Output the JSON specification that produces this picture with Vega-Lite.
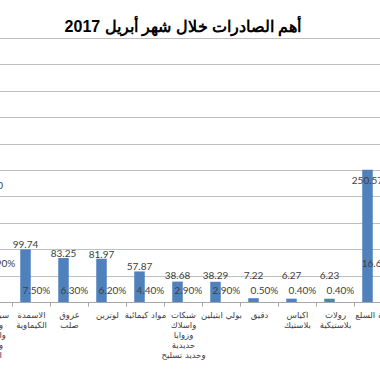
{
  "$schema": "https://vega.github.io/schema/vega-lite/v6.json",
  "width": 418,
  "height": 264,
  "autosize": {"type": "none"},
  "padding": {"left": -26, "top": 38, "right": -12, "bottom": 70},
  "background": "white",
  "title": {
    "text": "أهم الصادرات خلال شهر أبريل 2017",
    "fontSize": 16,
    "fontWeight": "bold",
    "font": "Liberation Sans",
    "color": "#000000",
    "anchor": "middle",
    "baseline": "alphabetic",
    "offset": -10
  },
  "data": {
    "values": [
      {"cat": "سيراميك\nوبلاط\nوادوات\nومواد\nالبناء", "value": 240, "pct": 0.159},
      {"cat": "الاسمدة\nالكيماوية", "value": 99.74, "pct": 0.075},
      {"cat": "عروق\nصلب", "value": 83.25, "pct": 0.063},
      {"cat": "لوترين", "value": 81.97, "pct": 0.062},
      {"cat": "مواد كيمائية", "value": 57.87, "pct": 0.044},
      {"cat": "شبكات\nواسلاك\nوزوايا\nحديدية\nوحديد تسليح", "value": 38.68, "pct": 0.029},
      {"cat": "بولي ايثيلين", "value": 38.29, "pct": 0.029},
      {"cat": "دقيق", "value": 7.22, "pct": 0.005},
      {"cat": "اكياس\nبلاستيك", "value": 6.27, "pct": 0.004},
      {"cat": "رولات\nبلاستيكية", "value": 6.23, "pct": 0.004},
      {"cat": "بقية السلع", "value": 250.57, "pct": 0.166}
    ]
  },
  "encoding": {
    "x": {
      "field": "cat",
      "type": "nominal",
      "sort": null,
      "scale": {"paddingInner": 0, "paddingOuter": 0},
      "axis": {
        "title": null,
        "labelAngle": 0,
        "labelExpr": "split(datum.value, '\\n')",
        "labelFont": "DejaVu Sans",
        "labelFontSize": 8.5,
        "labelLineHeight": 10,
        "labelColor": "#404040",
        "labelPadding": 4,
        "labelLimit": 0,
        "labelOverlap": false,
        "tickBand": "extent",
        "tickSize": 4,
        "tickColor": "#a6a6a6",
        "domainColor": "#a6a6a6",
        "grid": false
      }
    }
  },
  "layer": [
    {
      "mark": {"type": "bar", "xOffset": -5.5, "width": 10.5, "color": "#4f81bd"},
      "encoding": {
        "y": {
          "field": "value",
          "type": "quantitative",
          "title": null,
          "scale": {"domain": [0, 500], "nice": false}
        }
      }
    },
    {
      "transform": [{"filter": "datum.value >= 45 && datum.value < 200"}],
      "mark": {"type": "text", "xOffset": -5.5, "dy": -1, "baseline": "alphabetic", "font": "Lato", "fontSize": 10, "color": "#404040"},
      "encoding": {
        "y": {"field": "value", "type": "quantitative", "title": null},
        "text": {"field": "value", "type": "quantitative", "format": ".2f"}
      }
    },
    {
      "transform": [{"filter": "datum.value >= 200"}],
      "mark": {"type": "text", "xOffset": -5.5, "dy": 14, "baseline": "alphabetic", "font": "Lato", "fontSize": 10, "color": "#404040"},
      "encoding": {
        "y": {"field": "value", "type": "quantitative", "title": null},
        "text": {"field": "value", "type": "quantitative", "format": ".2f"}
      }
    },
    {
      "transform": [{"filter": "datum.value < 45"}],
      "mark": {"type": "text", "xOffset": -5.5, "dy": -23, "baseline": "alphabetic", "font": "Lato", "fontSize": 10, "color": "#404040"},
      "encoding": {
        "y": {"datum": 0, "type": "quantitative", "title": null},
        "text": {"field": "value", "type": "quantitative", "format": ".2f"}
      }
    },
    {
      "transform": [{"filter": "datum.pct < 0.1"}],
      "mark": {"type": "text", "xOffset": 5.5, "dy": -8, "baseline": "alphabetic", "font": "Lato", "fontSize": 10, "color": "#404040"},
      "encoding": {
        "y": {"datum": 0, "type": "quantitative", "title": null},
        "text": {"field": "pct", "type": "quantitative", "format": ".2%"}
      }
    },
    {
      "transform": [{"filter": "datum.pct >= 0.1"}],
      "mark": {"type": "text", "xOffset": 5.5, "dy": -35, "baseline": "alphabetic", "font": "Lato", "fontSize": 10, "color": "#404040"},
      "encoding": {
        "y": {"datum": 0, "type": "quantitative", "title": null},
        "text": {"field": "pct", "type": "quantitative", "format": ".2%"}
      }
    }
  ],
  "config": {
    "view": {"stroke": null},
    "axisY": {
      "labels": false,
      "ticks": false,
      "domain": false,
      "grid": true,
      "tickCount": 10,
      "gridColor": "#bfbfbf",
      "gridWidth": 1
    }
  }
}
